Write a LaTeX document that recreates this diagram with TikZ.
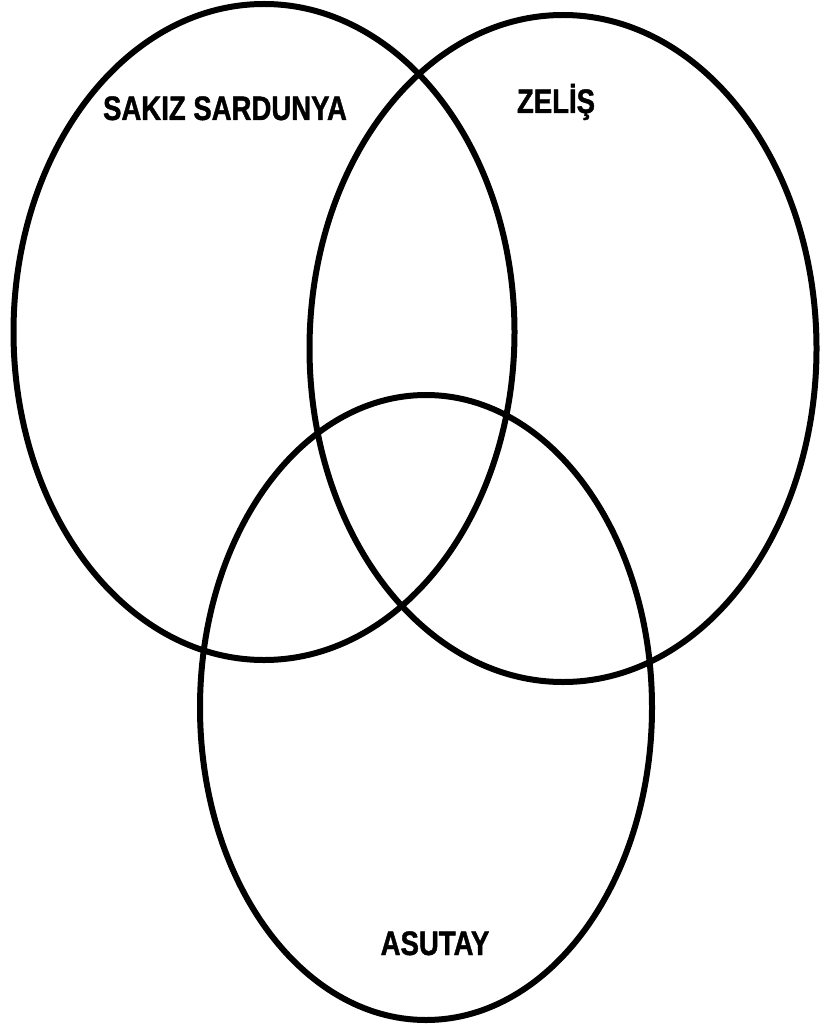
\documentclass[tikz,border=0pt]{standalone}
\usepackage{fontspec}
\setmainfont{Liberation Sans}[FakeStretch=0.81,BoldFeatures={FakeBold=1.2}]
\begin{document}
\begin{tikzpicture}[x=1pt,y=-1pt,
  ring/.style={draw=black,line width=6pt},
  lbl/.style={anchor=base,inner sep=0pt,font=\fontsize{34}{40}\selectfont\bfseries}]
\useasboundingbox (0,0) rectangle (821,1032);
\draw[ring] (264,332) ellipse [x radius=250.5, y radius=328];
\draw[ring] (563,348.5) ellipse [x radius=253.5, y radius=333.5];
\draw[ring] (426,707.5) ellipse [x radius=226, y radius=312.5];
\node[lbl] (sakiz) at (225,120) {SAKIZ SARDUNYA};
\node[lbl] (zelis) at (556,113) {ZELİŞ};
\node[lbl] (asutay) at (435,955) {ASUTAY};
\end{tikzpicture}
\end{document}
